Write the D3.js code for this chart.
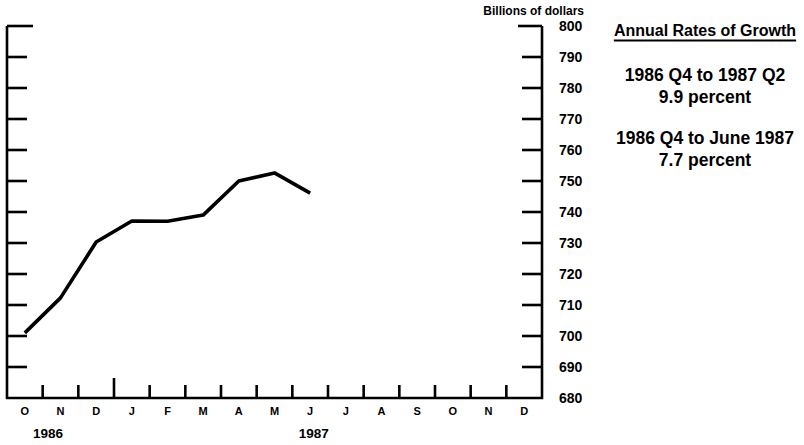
<!DOCTYPE html>
<html>
<head>
<meta charset="utf-8">
<script src="https://cdn.jsdelivr.net/npm/d3@7"></script>
<style>
	body { margin: 0; background: #fff; }
	text { font-family: "Liberation Sans", Arial, sans-serif; font-weight: bold; fill: #000; }
</style>
</head>
<body>
<svg id="chart" width="804" height="445"></svg>
<script>
// months along the bottom, Oct 1986 .. Dec 1987
var months = ['O', 'N', 'D', 'J', 'F', 'M', 'A', 'M', 'J', 'J', 'A', 'S', 'O', 'N', 'D'];
var years = [{ label: '1986', at: 1.15 }, { label: '1987', at: 8.6 }];
// billions of dollars, monthly
var values = [701, 712.3, 730.3, 737.1, 737, 739, 750, 752.6, 746.1];
var yTicks = d3.range(680, 801, 10);
var notes = [
	'1986 Q4 to 1987 Q2',
	'9.9 percent',
	'1986 Q4 to June 1987',
	'7.7 percent'
];

var plotLeft = 7, plotRight = 542, plotTop = 26, plotBottom = 398;
var tickLen = 20;

var svg = d3.select('#chart');

var x = d3.scaleLinear()
	.domain([0, months.length])
	.range([plotLeft, plotRight]);

var y = d3.scaleLinear()
	.domain([680, 800])
	.range([plotBottom, plotTop]);

var frame = svg.append('g')
	.attr('stroke', '#000')
	.attr('stroke-width', 2.6)
	.attr('fill', 'none');

// left, bottom and right edges
frame.append('path')
	.attr('d', 'M' + plotLeft + ',' + plotTop + 'V' + plotBottom + 'H' + plotRight + 'V' + plotTop);

// y ticks on both sides
frame.selectAll('.ytl').data(yTicks.slice(1)).enter().append('line')
	.attr('x1', plotLeft).attr('x2', function(d) { return plotLeft + (d === 800 ? 26 : tickLen) })
	.attr('y1', function(d) { return y(d) }).attr('y2', function(d) { return y(d) });

frame.selectAll('.ytr').data(yTicks.slice(1)).enter().append('line')
	.attr('x1', function(d) { return plotRight - (d === 800 ? 24 : tickLen) }).attr('x2', plotRight)
	.attr('y1', function(d) { return y(d) }).attr('y2', function(d) { return y(d) });

// month boundary ticks, taller at the year break
frame.selectAll('.xt').data(d3.range(1, months.length)).enter().append('line')
	.attr('x1', function(d) { return x(d) }).attr('x2', function(d) { return x(d) })
	.attr('y1', plotBottom)
	.attr('y2', function(d) { return d === 3 ? plotBottom - 20 : plotBottom - 13 });

svg.selectAll('.ylab').data(yTicks).enter().append('text')
	.attr('x', 559)
	.attr('y', function(d) { return y(d) })
	.attr('dy', '0.36em')
	.attr('font-size', 14)
	.text(function(d) { return d });

svg.selectAll('.mlab').data(months).enter().append('text')
	.attr('x', function(d, i) { return x(i + 0.5) })
	.attr('y', 411)
	.attr('dy', '0.36em')
	.attr('text-anchor', 'middle')
	.attr('font-size', 11)
	.text(function(d) { return d });

svg.selectAll('.yrlab').data(years).enter().append('text')
	.attr('x', function(d) { return x(d.at) })
	.attr('y', 433)
	.attr('dy', '0.36em')
	.attr('text-anchor', 'middle')
	.attr('font-size', 13.5)
	.text(function(d) { return d.label });

svg.append('text')
	.attr('x', 584).attr('y', 15)
	.attr('text-anchor', 'end')
	.attr('font-size', 12)
	.text('Billions of dollars');

var line = d3.line()
	.x(function(d, i) { return x(i + 0.5) })
	.y(function(d) { return y(d) });

svg.append('path')
	.datum(values)
	.attr('d', line)
	.attr('fill', 'none')
	.attr('stroke', '#000')
	.attr('stroke-width', 3.6)
	.attr('stroke-linejoin', 'round');

// growth notes on the right
var cx = 705;
var head = svg.append('text')
	.attr('x', cx).attr('y', 36)
	.attr('text-anchor', 'middle')
	.attr('font-size', 16)
	.text('Annual Rates of Growth');
var hw = head.node().getComputedTextLength();
svg.append('line')
	.attr('x1', cx - hw / 2).attr('x2', cx + hw / 2)
	.attr('y1', 40.5).attr('y2', 40.5)
	.attr('stroke', '#000').attr('stroke-width', 2);

var noteY = [81, 103, 144, 166];
svg.selectAll('.note').data(notes).enter().append('text')
	.attr('x', cx)
	.attr('y', function(d, i) { return noteY[i] })
	.attr('text-anchor', 'middle')
	.attr('font-size', 17.5)
	.text(function(d) { return d });
</script>
</body>
</html>
